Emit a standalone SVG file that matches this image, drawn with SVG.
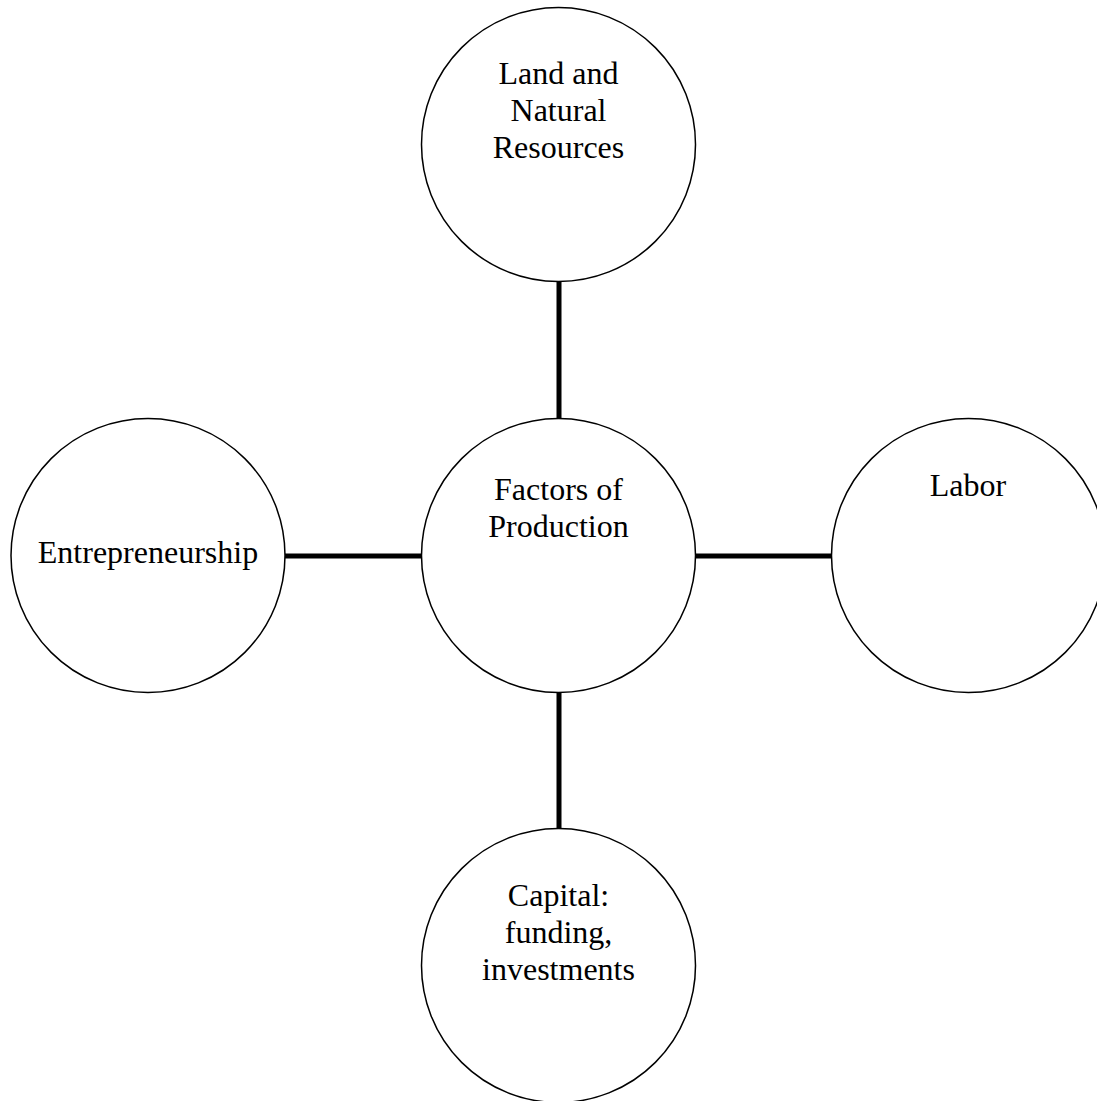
<svg xmlns="http://www.w3.org/2000/svg" width="1097" height="1101" viewBox="0 0 1097 1101">
<style>
.node circle{fill:#fff;stroke:#000;stroke-width:1.5}
.node text{font-family:"Liberation Serif","Times New Roman",serif;font-size:32px;fill:#000;text-anchor:middle}
.conn line{stroke:#000;stroke-width:5}
</style>
<rect width="1097" height="1101" fill="#fff"/>
<g id="connectors" class="conn">
<line x1="559" y1="281" x2="559" y2="420"/>
<line x1="559" y1="691" x2="559" y2="829"/>
<line x1="285" y1="556" x2="422" y2="556"/>
<line x1="695" y1="556" x2="832" y2="556"/>
</g>
<g id="land" class="node">
<circle cx="558.5" cy="144.5" r="137"/>
<text x="558.5" y="84">Land and</text>
<text x="558.5" y="121">Natural</text>
<text x="558.5" y="158">Resources</text>
</g>
<g id="factors" class="node">
<circle cx="558.5" cy="555.5" r="137"/>
<text x="558.5" y="500">Factors of</text>
<text x="558.5" y="537">Production</text>
</g>
<g id="entrepreneurship" class="node">
<circle cx="148" cy="555.5" r="137"/>
<text x="148" y="563">Entrepreneurship</text>
</g>
<g id="labor" class="node">
<circle cx="968.5" cy="555.5" r="137"/>
<text x="968" y="496">Labor</text>
</g>
<g id="capital" class="node">
<circle cx="558.5" cy="965.5" r="137"/>
<text x="558.5" y="906">Capital:</text>
<text x="558.5" y="943">funding,</text>
<text x="558.5" y="980">investments</text>
</g>
</svg>
